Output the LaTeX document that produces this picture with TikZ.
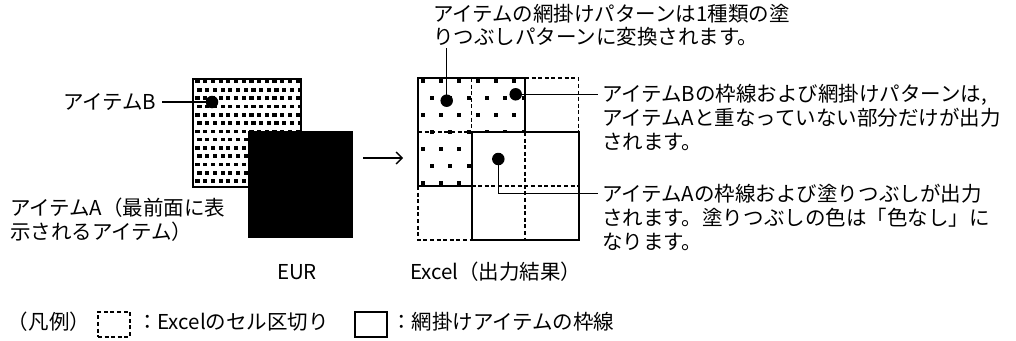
\documentclass[tikz,border=0pt]{standalone}
\usepackage{fontspec}
\setmainfont{Noto Sans CJK JP}
\usetikzlibrary{arrows.meta}
\begin{document}
\begin{tikzpicture}[x=1pt,y=-1pt,
  txt/.style={font=\fontsize{20.5}{24}\selectfont, anchor=base west, inner sep=0pt, outer sep=0pt},
  dotn/.style={circle, fill=black, inner sep=0pt, minimum size=12.5pt},
  solidln/.style={line width=2pt, line join=miter},
  dashln/.style={line width=1.8pt, dash pattern=on 4pt off 2.6pt},
  leader/.style={line width=1.4pt},
  legbox/.style={minimum width=32pt, minimum height=25pt, anchor=north west, inner sep=0pt},
]
\useasboundingbox[fill=white] (0,0) rectangle (1016,340);

% ---------- EUR side ----------
\begin{scope}
  \clip (193,79) rectangle (301,187);
  \foreach \r in {0,...,13}{
    \foreach \c in {0,...,14}{
      \fill ({197.5+7.7*\c+2*mod(\r,2)-2.1},{81.5+8.3*\r-1.8}) rectangle +(4.2,3.6);
    }
  }
\end{scope}
\draw[solidln] (193,79) rectangle (301,187);
\fill (248,131) rectangle (353,238);
\node[dotn] (dotE) at (212,102) {};

\node[txt] (tB) at (63,109.6) {アイテムB};
\draw[leader] ([xshift=6pt]tB.east |- dotE.center) -- (dotE.center);

\node[txt] (tA1) at (10,215.6) {アイテムA（最前面に表};
\node[txt] (tA2) at (10,239.6) {示されるアイテム）};

\node[txt, anchor=base] (eur) at (297,279.6) {EUR};

% ---------- arrow ----------
\coordinate (arS) at (363,158);
\coordinate (arE) at (403,158);
\draw[line width=1.4pt, -{Straight Barb[length=6pt,width=12pt]}] (arS) -- (arE);

% ---------- Excel side ----------
\begin{scope}
  \clip (418,78) rectangle (525,132) (418,131) rectangle (471.5,186);
  \foreach \r in {0,...,6}{
    \foreach \c in {0,...,5}{
      \fill ({422.7+9.3*mod(\r,2)+18.3*\c-2},{81+17*\r-2}) rectangle +(4,4);
    }
  }
\end{scope}

% dashed cell borders
\draw[dashln] (525,78) -- (578.5,78) -- (578.5,132);
\draw[dashln] (418,186) -- (418,240) -- (471.5,240);
\draw[dashln] (471.5,78) -- (471.5,132);
\draw[dashln] (418,132) -- (471.5,132);
\draw[dashln] (525,132) -- (525,240);
\draw[dashln] (471.5,186) -- (578.5,186);
% solid item borders
\draw[solidln] (471.5,186) -- (418,186) -- (418,78) -- (525,78) -- (525,132);
\draw[solidln] (471.5,132) rectangle (578.5,240);

\node[dotn] (dotT) at (446.7,100.7) {};
\node[dotn] (dotR1) at (515.7,94.3) {};
\node[dotn] (dotR2) at (498.3,159) {};

\node[txt] (top1) at (433,21.1) {アイテムの網掛けパターンは1種類の塗};
\node[txt] (top2) at (433,44.6) {りつぶしパターンに変換されます。};
\draw[leader] ([yshift=-2pt]dotT |- top2.south) -- (dotT.center);

\node[txt] (r1) at (602,101.6) {アイテムBの枠線および網掛けパターンは,};
\node[txt] (r2) at (602,125.6) {アイテムAと重なっていない部分だけが出力};
\node[txt] (r3) at (602,149.6) {されます。};
\draw[leader] (dotR1.center) -- ([xshift=-4pt]r1.west |- dotR1.center);

\node[txt] (r4) at (602,201.6) {アイテムAの枠線および塗りつぶしが出力};
\node[txt] (r5) at (602,225.6) {されます。塗りつぶしの色は「色なし」に};
\node[txt] (r6) at (602,249.6) {なります。};
\draw[leader] (dotR2.center) |- ([xshift=-4pt]r4.west);

\node[txt] (excel) at (410,279.6) {Excel（出力結果）};

% ---------- legend ----------
\node[txt] (leg) at (8,329.6) {（凡例）};
\node[legbox, draw, dashln] (lgD) at (97,311) {};
\node[txt] (legD) at (137,329.6) {：Excelのセル区切り};
\node[legbox, draw, solidln] (lgS) at (354,311) {};
\node[txt] (legS) at (391,329.6) {：網掛けアイテムの枠線};
\end{tikzpicture}
\end{document}
